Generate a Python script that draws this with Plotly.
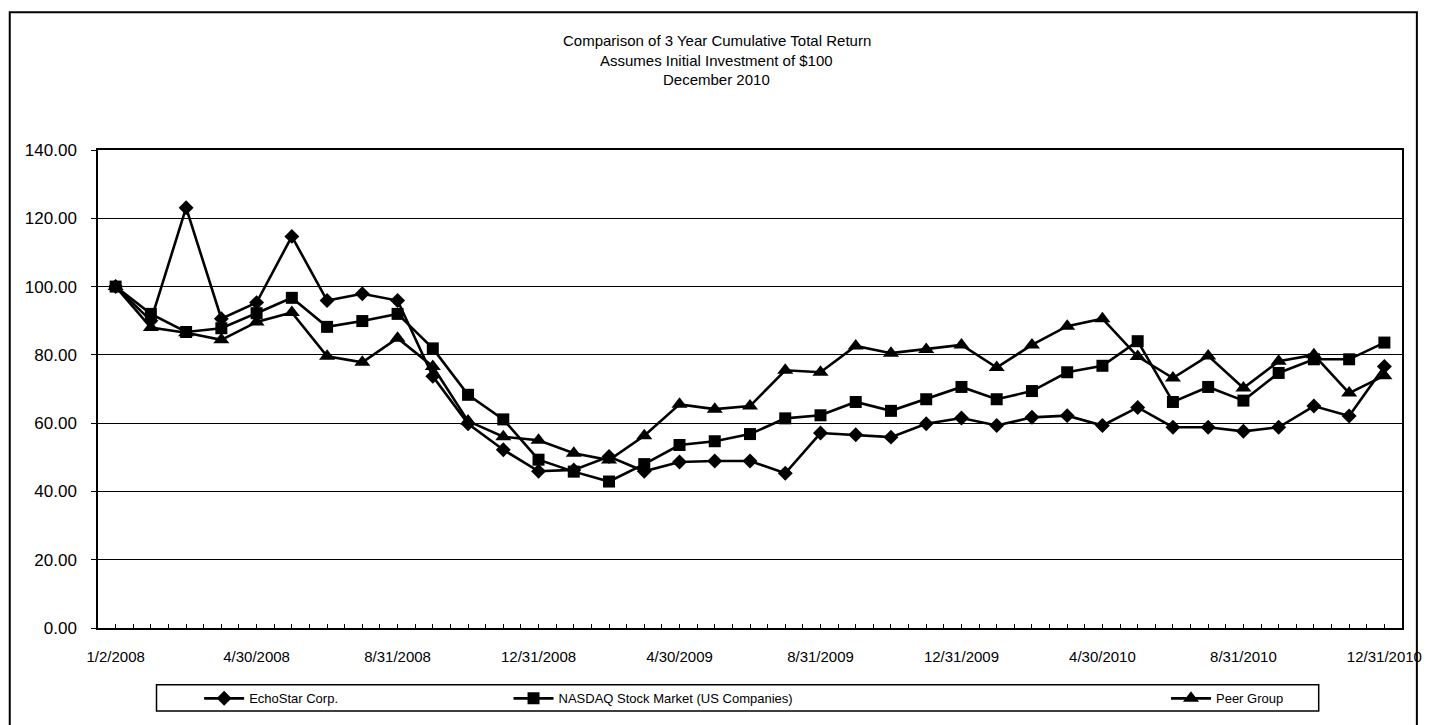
import plotly.graph_objects as go

dates = ["1/2/2008", "1/31/2008", "2/29/2008", "3/31/2008", "4/30/2008", "5/31/2008",
         "6/30/2008", "7/31/2008", "8/31/2008", "9/30/2008", "10/31/2008", "11/30/2008",
         "12/31/2008", "1/31/2009", "2/28/2009", "3/31/2009", "4/30/2009", "5/31/2009",
         "6/30/2009", "7/31/2009", "8/31/2009", "9/30/2009", "10/31/2009", "11/30/2009",
         "12/31/2009", "1/31/2010", "2/28/2010", "3/31/2010", "4/30/2010", "5/31/2010",
         "6/30/2010", "7/31/2010", "8/31/2010", "9/30/2010", "10/31/2010", "11/30/2010",
         "12/31/2010"]

echostar = [100, 90.0, 123.1, 90.6, 95.3, 114.7, 95.9, 97.9, 95.9, 73.7, 59.8, 52.2,
            45.9, 46.3, 50.2, 45.9, 48.6, 48.9, 48.9, 45.3, 57.1, 56.6, 55.9, 59.8,
            61.5, 59.3, 61.7, 62.2, 59.3, 64.6, 58.8, 58.8, 57.6, 58.8, 65.0, 62.1, 76.6]
nasdaq = [100, 92.0, 86.7, 87.8, 92.2, 96.7, 88.2, 89.9, 92.0, 81.9, 68.3, 61.1,
          49.3, 45.8, 42.9, 48.0, 53.6, 54.7, 56.8, 61.4, 62.3, 66.2, 63.6, 67.0,
          70.6, 67.0, 69.4, 74.9, 76.8, 84.0, 66.2, 70.6, 66.6, 74.7, 78.7, 78.7, 83.6]
peer = [100, 88.0, 86.5, 84.4, 89.6, 92.4, 79.6, 77.8, 84.9, 76.6, 60.6, 56.0,
        55.0, 51.2, 49.2, 56.3, 65.5, 64.1, 65.0, 75.5, 74.9, 82.6, 80.5, 81.6,
        82.9, 76.3, 82.9, 88.4, 90.6, 79.5, 73.2, 79.7, 70.3, 78.1, 80.0, 68.8, 73.9]

series_names = ["EchoStar Corp.", "NASDAQ Stock Market (US Companies)", "Peer Group"]
title_lines = ["Comparison of 3 Year Cumulative Total Return",
               "Assumes Initial Investment of $100",
               "December 2010"]

# figure sits inside the page body (8px default margin), so size it to fit the window
W, H = 1426, 717
L, R, T, B = 90, 1405, 142, 631
FONT = "Arial, Liberation Sans, sans-serif"


def px(x):
    return (x - L) / (R - L)


def py(y):
    return (B - y) / (B - T)


idx = list(range(len(dates)))
tick_idx = idx[::4]
tick_text = dates[::4]

fig = go.Figure()
specs = [(echostar, "diamond", 11.5, "legend"),
         (nasdaq, "square", 12, "legend2"),
         (peer, "triangle-up", 14, "legend3")]
for (vals, sym, size, leg), name in zip(specs, series_names):
    fig.add_trace(go.Scatter(
        x=idx, y=vals, name=name, mode="lines+markers",
        line=dict(color="black", width=2.6),
        marker=dict(symbol=sym, size=size, color="black"),
        legend=leg,
    ))

legend_common = dict(orientation="h", yanchor="middle", xanchor="left",
                     bgcolor="rgba(0,0,0,0)", borderwidth=0,
                     font=dict(family=FONT, size=13, color="black"), itemwidth=40)
leg_y = py(703)

annotations = []
for i, t in enumerate(title_lines):
    annotations.append(dict(text=t, x=px(714), y=py(30 + 20 * i), xref="paper", yref="paper",
                            xanchor="center", yanchor="middle", showarrow=False,
                            font=dict(family=FONT, size=15, color="black")))

fig.update_layout(
    width=W, height=H,
    margin=dict(l=L, r=W - R, t=T, b=H - B),
    paper_bgcolor="white", plot_bgcolor="white",
    showlegend=True,
    legend=dict(x=px(192), y=leg_y, **legend_common),
    legend2=dict(x=px(504), y=leg_y, **legend_common),
    legend3=dict(x=px(1167), y=leg_y, **legend_common),
    annotations=annotations,
    shapes=[
        dict(type="rect", xref="paper", yref="paper", x0=px(1), x1=px(1420), y0=py(740), y1=py(1),
             line=dict(color="black", width=2), layer="below"),
        dict(type="rect", xref="paper", yref="paper", x0=px(149), x1=px(1321), y0=py(716), y1=py(689),
             line=dict(color="black", width=1.5)),
    ],
    xaxis=dict(range=[-0.5, len(dates) - 0.5], tickvals=tick_idx, ticktext=tick_text,
               showgrid=False, zeroline=False, showline=True, linecolor="black", linewidth=1.5,
               mirror=True, ticks="inside", ticklen=4, tickcolor="black",
               minor=dict(dtick=0.5, tick0=-0.5, ticks="inside", ticklen=4, tickcolor="black", showgrid=False),
               tickfont=dict(family=FONT, size=15, color="black"), ticklabelstandoff=14),
    yaxis=dict(range=[0, 140], dtick=20, tickformat=".2f", showgrid=True, gridcolor="black",
               gridwidth=1, zeroline=False, showline=True, linecolor="black", linewidth=1.5,
               mirror=True, ticks="outside", ticklen=5, tickcolor="black",
               tickfont=dict(family=FONT, size=17, color="black"), ticklabelstandoff=11),
)

fig.write_html("out.html")
